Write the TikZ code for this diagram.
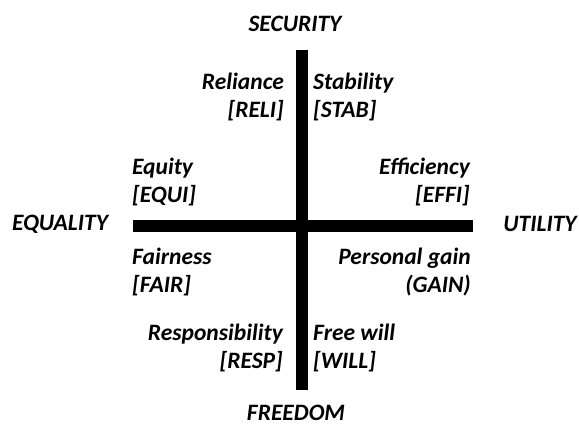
\documentclass[tikz,border=0pt]{standalone}
\usepackage{fontspec}
\setmainfont{Carlito}
\usepackage{tikz}
\usetikzlibrary{positioning}
\tikzstyle{axis} = [line width=12pt, color=black]

\begin{document}
\begin{tikzpicture}[
    x=1pt, y=-1pt,
    node distance=10pt,
    pole/.style={inner sep=0pt, font=\fontsize{23.5}{28}\selectfont\bfseries\itshape},
    value/.style={inner sep=0pt, font=\fontsize{23.5}{28}\selectfont\bfseries\itshape},
    valueleft/.style={value, align=right},
    valueright/.style={value, align=left}
]
\useasboundingbox (0,0) rectangle (579,425);

% Axes
\coordinate (top) at (302,50);
\coordinate (bottom) at (302,390);
\coordinate (left) at (133,226);
\coordinate (right) at (473,226);
\draw[axis] (left) -- (right);
\draw[axis] (top) -- (bottom);

% Poles
\node (security) [pole] at (295,24) {SECURITY};
\node (freedom) [pole] at (296,413) {FREEDOM};
\node (equality) [pole] at (60,224) {EQUALITY};
\node (utility) [pole] at (540,224) {UTILITY};

% Upper half
\node (reli) [valueleft, anchor=north east] at (284,72.5) {Reliance\\ {[RELI]}};
\node (stab) [valueright, anchor=north west] at (313,72.5) {Stability\\ {[STAB]}};
\node (equi) [valueright, anchor=north west] at (132,157.5) {Equity\\ {[EQUI]}};
\node (effi) [valueleft, anchor=north east] at (470,157.5) {Efficiency\\ {[EFFI]}};

% Lower half
\node (fair) [valueright, anchor=north west] at (132,247.5) {Fairness\\ {[FAIR]}};
\node (gain) [valueleft, anchor=north east] at (471,247.5) {Personal gain\\ (GAIN)};
\node (resp) [valueleft, anchor=north east] at (283,323.5) {Responsibility\\ {[RESP]}};
\node (will) [valueright, anchor=north west] at (313,323.5) {Free will\\ {[WILL]}};
\end{tikzpicture}
\end{document}
